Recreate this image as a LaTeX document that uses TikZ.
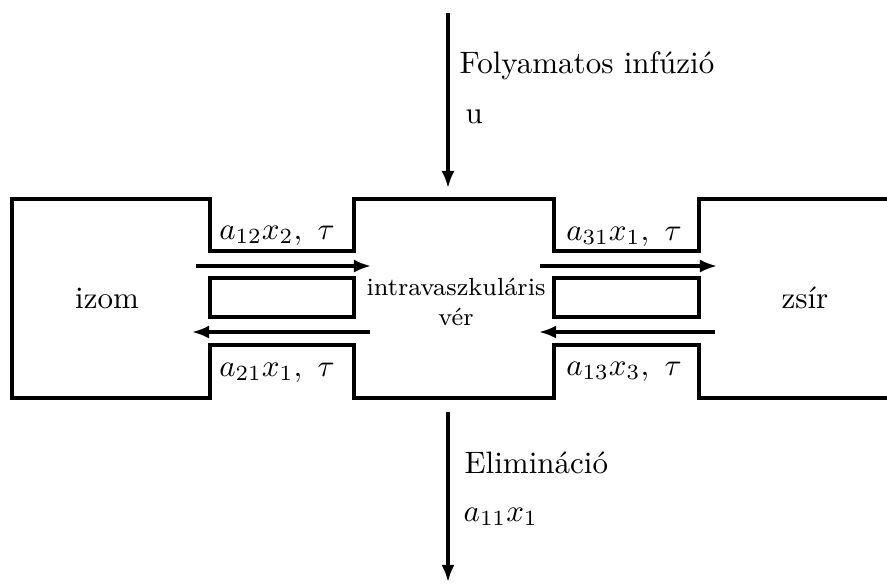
\documentclass[tikz,border=0pt]{standalone}
\usetikzlibrary{arrows.meta}

\begin{document}
\begin{tikzpicture}[
  x=0.01134cm, y=-0.01134cm,
  wall/.style={line width=1pt, line join=miter},
  flow/.style={-{Latex[length=5.5pt,width=4.2pt]}, line width=1pt},
  lbl/.style={inner sep=0pt, anchor=base},
  txt/.style={inner sep=0pt, anchor=base west}
]
\useasboundingbox (0,0) rectangle (887,583);

% compartments with the two channels
\draw[wall] (900,199) -- (699,199) -- (699,251) -- (554,251) -- (554,199)
  -- (354,199) -- (354,251) -- (210,251) -- (210,199) -- (12,199)
  -- (12,398) -- (210,398) -- (210,345) -- (354,345) -- (354,398)
  -- (554,398) -- (554,345) -- (699,345) -- (699,398) -- (900,398);
\draw[wall] (210,278) rectangle (354,317);
\draw[wall] (554,278) rectangle (699,317);

\node[lbl] (izom) at (107,308) {izom};
\node[lbl] (zsir) at (805,308) {zs\'ir};
\node[font=\footnotesize, align=center, inner sep=0pt] (ver) at (456,302)
  {intravaszkul\'aris\\v\'er};

% exchange rates
\node[lbl] (r12) at (277,239) {$a_{12}x_2,\ \tau$};
\node[lbl] (r21) at (277,376) {$a_{21}x_1,\ \tau$};
\node[lbl] (r31) at (624,240) {$a_{31}x_1,\ \tau$};
\node[lbl] (r13) at (624,375) {$a_{13}x_3,\ \tau$};

% input and elimination
\node[txt] (inf) at (459,73) {Folyamatos inf\'uzi\'o};
\node[txt] (u) at (465,123) {u};
\node[txt] (elim) at (464,473) {Elimin\'aci\'o};
\node[txt] (a11) at (463,521) {$a_{11}x_1$};

\coordinate (in0) at (448,13);  \coordinate (in1) at (448,188);
\coordinate (el0) at (448,412); \coordinate (el1) at (448,582);
\coordinate (iv0) at (196,266); \coordinate (iv1) at (371,266);
\coordinate (vi0) at (370,332); \coordinate (vi1) at (192,332);
\coordinate (vz0) at (540,266); \coordinate (vz1) at (717,266);
\coordinate (zv0) at (715,332); \coordinate (zv1) at (539,332);

\draw[flow] (in0) -- (in1);
\draw[flow] (el0) -- (el1);
\draw[flow] (iv0) -- (iv1);
\draw[flow] (vi0) -- (vi1);
\draw[flow] (vz0) -- (vz1);
\draw[flow] (zv0) -- (zv1);
\end{tikzpicture}
\end{document}
